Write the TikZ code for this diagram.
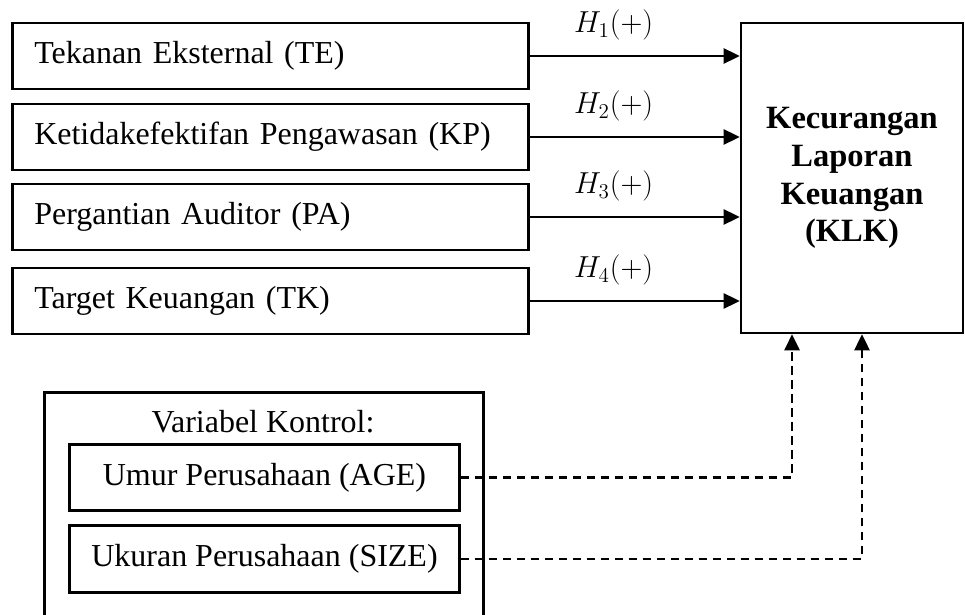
\documentclass[tikz,border=0pt]{standalone}
\usepackage{fontspec}
\setmainfont{Liberation Serif}
\usetikzlibrary{arrows.meta}

\tikzset{
  varbox/.style={draw, line width=1.5pt, anchor=west, minimum height=1.32cm,
    text width=9.44cm, inner xsep=0.44cm, align=left},
  klkbox/.style={draw, line width=1.5pt, minimum width=4.44cm, minimum height=6.2cm,
    text width=4cm, align=center, font=\bfseries\fontsize{18.5}{21.5}\selectfont},
  ctrlbox/.style={draw, line width=1.5pt, minimum width=7.8cm, minimum height=1.33cm},
  arr/.style={line width=1.5pt, -{Triangle[length=0.32cm,width=0.3cm]}},
  darr/.style={arr, dash pattern=on 0.17cm off 0.11cm},
}

\begin{document}
\begin{tikzpicture}[x=0.02cm,y=-0.02cm,font=\fontsize{18.2}{21}\selectfont]
  \useasboundingbox (0,0) rectangle (965,615);
  \node[klkbox] (klk) at (852,178) {Kecurangan\\Laporan\\Keuangan\\(KLK)};
  % independent variables
  \foreach \nm/\yy/\txt [count=\k] in {te/56/Tekanan Eksternal (TE),
      kp/137/Ketidakefektifan Pengawasan (KP),
      pa/217/Pergantian Auditor (PA),
      tk/301/Target Keuangan (TK)}{
    \node[varbox] (\nm) at (11,\yy) {\txt};
    \draw[arr] (\nm.east) -- (\nm.east -| klk.west)
      node[pos=0.4, yshift=0.62cm] {$H_{\k}(+)$};
  }
  % control variables
  \node[draw, line width=1.5pt, anchor=north west, minimum width=8.78cm,
    minimum height=5cm] (ctrl) at (43,391) {};
  \node (ctrltitle) at (263,422) {Variabel Kontrol:};
  \node[ctrlbox] (age) at (264.5,477.5) {Umur Perusahaan (AGE)};
  \node[ctrlbox] (sz) at (264.5,559) {Ukuran Perusahaan (SIZE)};
  \draw[darr] (age.east) -| ([xshift=-1.2cm]klk.south);
  \draw[darr] (sz.east) -| ([xshift=0.2cm]klk.south);
\end{tikzpicture}
\end{document}
